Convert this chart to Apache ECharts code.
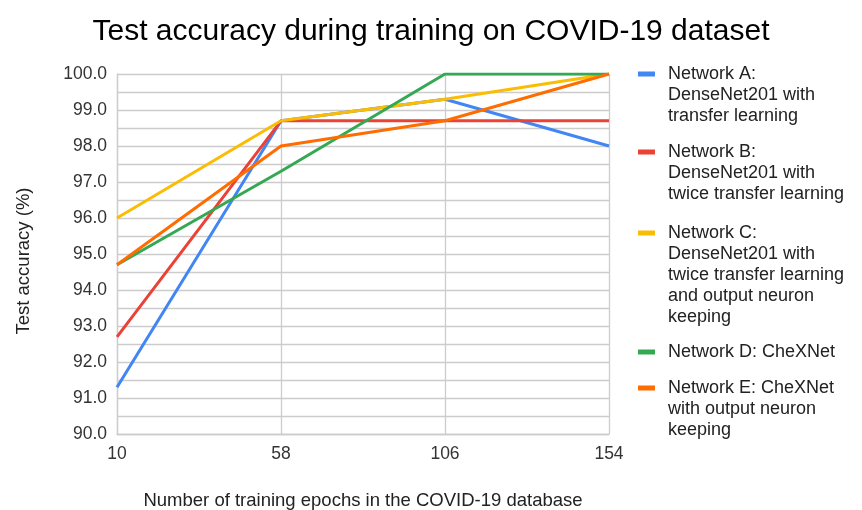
<!DOCTYPE html>
<html>
<head>
<meta charset="utf-8">
<script src="https://cdn.jsdelivr.net/npm/echarts@6/dist/echarts.min.js"></script>
<style>
  html, body { margin: 0; padding: 0; background: #fff; }
  #main { width: 862px; height: 510px; }
</style>
</head>
<body>
<div id="main"></div>
<script>
// data
var epochs = ['10', '58', '106', '154'];
var netA = [91.3, 98.7, 99.3, 98.0];
var netB = [92.7, 98.7, 98.7, 98.7];
var netC = [96.0, 98.7, 99.3, 100.0];
var netD = [94.7, 97.3, 100.0, 100.0];
var netE = [94.7, 98.0, 98.7, 100.0];

var names = [
  'Network A:\nDenseNet201 with\ntransfer learning',
  'Network B:\nDenseNet201 with\ntwice transfer learning',
  'Network C:\nDenseNet201 with\ntwice transfer learning\nand output neuron\nkeeping',
  'Network D: CheXNet',
  'Network E: CheXNet\nwith output neuron\nkeeping'
];
var colors = ['#4285F4', '#EA4335', '#FBBC04', '#34A853', '#FF6D01'];
var values = [netA, netB, netC, netD, netE];
// y of each legend icon (first text line)
var legendTops = [74, 152, 233, 352, 388];

var font = '"Liberation Sans", Arial, sans-serif';
var lh = 21;
var gridColor = '#cccccc';

var myChart = echarts.init(document.getElementById('main'));

// one legend per entry: icon box as tall as the text, swatch drawn near its top
var legends = names.map(function (n, i) {
  var h = n.split('\n').length * lh;
  return {
    orient: 'vertical',
    left: 638,
    top: legendTops[i] - lh / 2,
    padding: 0,
    itemWidth: 25,
    itemHeight: h,
    itemGap: 0,
    selectedMode: false,
    icon: 'path://M0,0h0.01 M25,' + h + 'h-0.01 M0,8h17v5h-17z',
    itemStyle: { borderWidth: 0 },
    data: [n],
    textStyle: { fontFamily: font, fontSize: 18, color: '#222', lineHeight: lh }
  };
});

var option = {
  color: colors,
  title: {
    text: 'Test accuracy during training on COVID-19 dataset',
    left: 'center',
    top: 12,
    textStyle: { fontFamily: font, fontSize: 30, fontWeight: 'normal', color: '#000' }
  },
  legend: legends,
  grid: { left: 117, right: 253, top: 74, bottom: 76, outerBoundsMode: 'none' },
  xAxis: {
    type: 'category',
    data: epochs,
    boundaryGap: false,
    name: 'Number of training epochs in the COVID-19 database',
    nameLocation: 'middle',
    nameGap: 57,
    nameTextStyle: { fontFamily: font, fontSize: 18.5, color: '#222' },
    axisLine: { lineStyle: { color: gridColor, width: 1.3 } },
    axisTick: { show: false },
    axisLabel: { fontFamily: font, fontSize: 17.5, color: '#333', margin: 11 },
    splitLine: { show: true, lineStyle: { color: gridColor, width: 1.3 } }
  },
  yAxis: {
    type: 'value',
    min: 90,
    max: 100,
    interval: 1,
    name: 'Test accuracy (%)',
    nameLocation: 'middle',
    nameGap: 84,
    nameTextStyle: { fontFamily: font, fontSize: 18.5, color: '#222', padding: [0, 14, 0, 0] },
    axisLine: { show: true, lineStyle: { color: gridColor, width: 1.3 } },
    axisTick: { show: false },
    axisLabel: {
      fontFamily: font, fontSize: 17.5, color: '#333', margin: 10,
      formatter: function (v) { return v.toFixed(1); }
    },
    splitLine: { lineStyle: { color: gridColor, width: 1.3 } },
    minorTick: { show: false, splitNumber: 2 },
    minorSplitLine: { show: true, lineStyle: { color: gridColor, width: 1.3 } }
  },
  series: names.map(function (n, i) {
    return {
      name: n,
      type: 'line',
      data: values[i],
      symbol: 'none',
      lineStyle: { width: 3 },
      animation: false
    };
  })
};

myChart.setOption(option);
</script>
</body>
</html>
